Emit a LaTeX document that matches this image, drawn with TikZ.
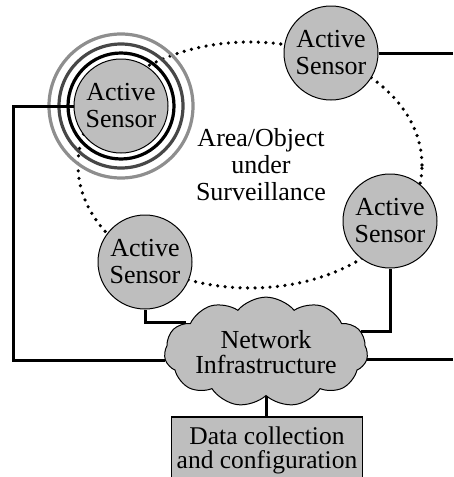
\documentclass[tikz,border=0pt]{standalone}
\usepackage{fontspec}
\setmainfont{Liberation Serif}
\usetikzlibrary{shapes.symbols,positioning}
\definecolor{sg}{HTML}{BEBEBE}
\definecolor{rdark}{HTML}{474747}
\definecolor{rlight}{HTML}{8E8E8E}
\tikzset{
  sensor/.style={
    circle, draw=black, line width=1pt, fill=sg,
    minimum size=94pt, inner sep=0pt, align=center,
    font=\fontsize{26}{27}\selectfont
  },
  netcloud/.style={
    cloud, cloud puffs=11, cloud puff arc=100, aspect=2.3,
    draw=black, line width=1pt, fill=sg, inner sep=0pt,
    minimum width=197pt, minimum height=87pt, align=center,
    font=\fontsize{26}{25}\selectfont
  },
  dbox/.style={
    rectangle, draw=black, line width=1.2pt, fill=sg,
    minimum width=191pt, minimum height=66pt, align=center,
    font=\fontsize{25.5}{24}\selectfont
  },
  conn/.style={line width=3pt, black},
  ring/.style={line width=3.2pt},
  zone/.style={line width=3.6pt, line cap=round, dash pattern=on 0pt off 7.5pt}
}

\begin{document}
\begin{tikzpicture}[x=1pt, y=-1pt]
\useasboundingbox (0,0) rectangle (453,477);

% ── Surveillance area ─────────────────────────────────────────────
\draw[zone] (250,165) ellipse [x radius=172pt, y radius=123pt];
\node[font=\fontsize{26}{27}\selectfont, align=center] (area) at (261,165)
  {Area/Object\\under\\Surveillance};

% ── Sensors ───────────────────────────────────────────────────────
\node[sensor] (s1) at (121,106) {Active\\Sensor};
\node[sensor] (s2) at (331,53)  {Active\\Sensor};
\node[sensor] (s3) at (145,262) {Active\\Sensor};
\node[sensor] (s4) at (390,221) {Active\\Sensor};

% rings round the active one
\foreach \r/\c in {53/black, 62/rdark, 72/rlight}
  \draw[ring, \c] (s1.center) circle [radius=\r pt];

% ── Network + data collection ─────────────────────────────────────
\node[netcloud] (net) at (266,352) {Network\\Infrastructure};
\node[dbox] (dc) at (267,450) {Data collection\\and configuration};

% ── Wiring ────────────────────────────────────────────────────────
\coordinate (lft) at (13,106);
\coordinate (redge) at (453,0);
\draw[conn] (s1.west) -- (lft) |- (net.185);
\draw[conn] (net.-4) -- (net.-4 -| redge);
\draw[conn] (s2.east) -- (s2.east -| redge);
\draw[conn] (s3.south) |- (net.160);
\draw[conn] (s4.south) |- (net.12);
\draw[conn] (net.south) -- (net.south |- dc.north);

\end{tikzpicture}
\end{document}
